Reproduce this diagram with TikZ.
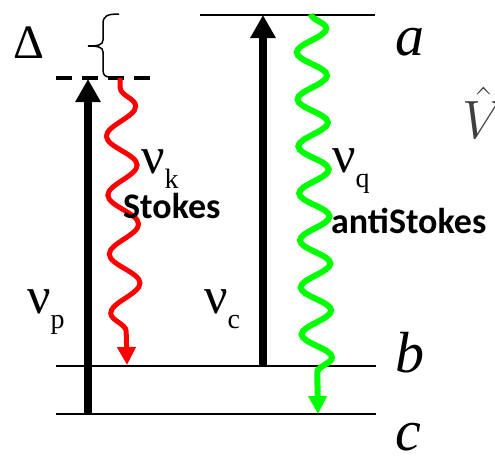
\RequirePackage{fix-cm}
\documentclass[tikz,border=0pt]{standalone}
\usepackage{fontspec}
\setmainfont{Liberation Serif}
\newfontfamily\tagfont{Carlito}
\usepackage{tikz}
\usetikzlibrary{arrows.meta,decorations.pathmorphing}
\definecolor{stokesred}{RGB}{255,0,0}
\definecolor{antigreen}{RGB}{0,255,0}
\newcommand{\FREQ}[1]{{\fontsize{52}{52}\selectfont ν}\raisebox{-15pt}{\fontsize{28}{28}\selectfont #1}}

\begin{document}
\begin{tikzpicture}[
    x=1pt, y=-1pt,
    level/.style={line width=1.3pt},
    virtual/.style={line width=3.5pt, dash pattern=on 16pt off 10pt},
    pump/.style={line width=8pt, -{Triangle[width=24pt, length=23pt]}},
    wave/.style={decorate, decoration={snake, amplitude=15pt, post length=20pt},
                 -{Triangle[width=18pt, length=18pt]}},
    freq/.style={inner sep=0pt, anchor=base west},
    levelname/.style={inner sep=0pt, anchor=base west, font=\fontsize{58}{58}\selectfont\itshape},
    tag/.style={inner sep=0pt, anchor=base west, font=\tagfont\bfseries\fontsize{36}{36}\selectfont}
]
\useasboundingbox (0,0) rectangle (495,455);

% Levels
\coordinate (a-west) at (200,15);  \coordinate (a-east) at (375,15);
\coordinate (b-west) at (56,366);  \coordinate (b-east) at (376,366);
\coordinate (c-west) at (56,414);  \coordinate (c-east) at (376,414);
\coordinate (v-west) at (56,78);   \coordinate (v-east) at (156,78);
\draw[level] (a-west) -- (a-east);
\draw[level] (b-west) -- (b-east);
\draw[level] (c-west) -- (c-east);
\draw[virtual] (v-west) -- (v-east);

\node[levelname] (na) at (395,55) {a};
\node[levelname] (nb) at (395,372) {b};
\node[levelname] (nc) at (395,450) {c};

% Detuning
\node[freq, font=\fontsize{48}{48}\selectfont] (delta) at (13,58) {Δ};
\draw[line width=1.5pt] (119,14) .. controls (107,14) and (103,16) .. (103,24) -- (103,40)
    .. controls (103,45) and (98,46) .. (88,46) .. controls (98,46) and (103,47) .. (103,52)
    -- (103,70) .. controls (103,75) and (105,77) .. (110,77);

% Pump and coupling
\coordinate (pump-start) at (88,414);  \coordinate (pump-end) at (88,79);
\coordinate (coup-start) at (263,366); \coordinate (coup-end) at (263,15);
\draw[pump] (pump-start) -- (pump-end);
\draw[pump] (coup-start) -- (coup-end);
\node[freq] (nup) at (27,313) {\FREQ{p}};
\node[freq] (nuc) at (204,313) {\FREQ{c}};

% Stokes and anti-Stokes emission
\coordinate (stokes-start) at (120,78);  \coordinate (stokes-end) at (127,365);
\coordinate (anti-start) at (311,14);    \coordinate (anti-end) at (318,414);
\draw[wave, stokesred, line width=5pt, decoration={segment length=59pt, pre length=10pt}]
    (stokes-start) -- (stokes-end);
\draw[wave, antigreen, line width=6pt, decoration={segment length=47pt}]
    (anti-start) -- (anti-end);
\node[freq] (nuk) at (141,173) {\FREQ{k}};
\node[freq] (nuq) at (332,172) {\FREQ{q}};
\node[tag] (stokes) at (123,218) {Stokes};
\node[tag] (antistokes) at (331,233) {antiStokes};

\node[freq, text=black!75, font=\fontsize{54}{54}\selectfont] (vhat) at (462,138) {$\hat{V}$};

\end{tikzpicture}
\end{document}
